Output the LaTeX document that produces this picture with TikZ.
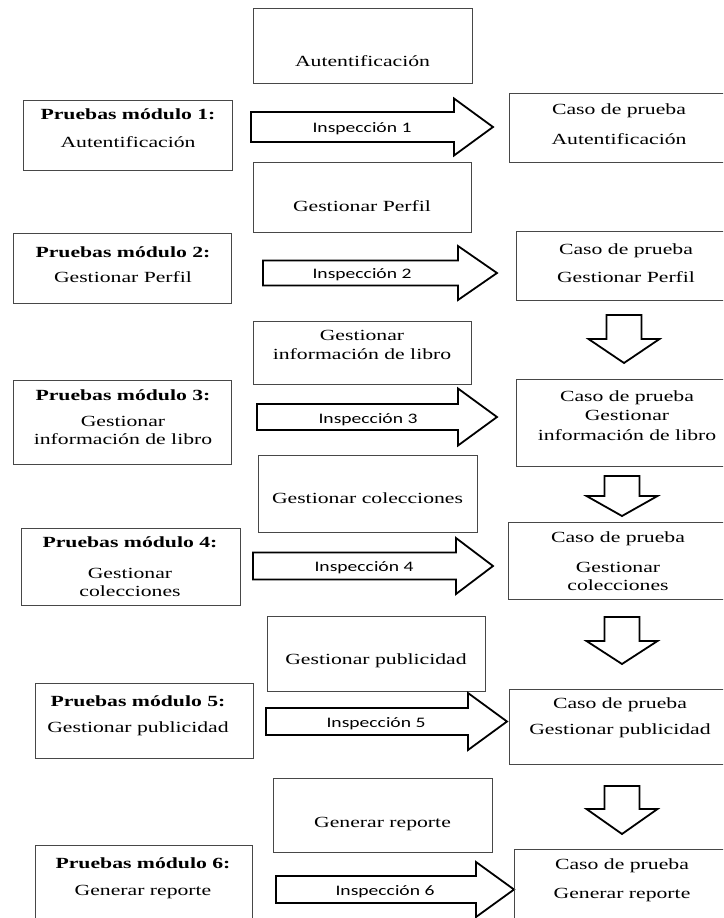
\documentclass[tikz,border=0pt]{standalone}
\usepackage{fontspec}
\setmainfont{Liberation Serif}[FakeStretch=1.4]
\newfontfamily\labelfont{Carlito}[FakeStretch=1.35]

% rectangle node from its two corners: name, x1, y1, x2, y2
\newcommand\mkpanel[5]{%
  \node[panel, minimum width={(#4)-(#2)}, minimum height={(#5)-(#3)}]
    (#1) at ({((#2)+(#4))/2},{((#3)+(#5))/2}) {};}
% right-pointing block arrow: x start, x head base, x tip, y centre, shaft half, head half
\newcommand\rblock[6]{%
  \draw[blockarrow] (#1,{#4-#5}) -- (#2,{#4-#5}) -- (#2,{#4-#6}) -- (#3,#4)
    -- (#2,{#4+#6}) -- (#2,{#4+#5}) -- (#1,{#4+#5}) -- cycle;}
% down-pointing block arrow: x centre, y top, y head base, y tip, shaft half, head half
\newcommand\dblock[6]{%
  \draw[blockarrow] ({#1-#5},#2) -- ({#1+#5},#2) -- ({#1+#5},#3) -- ({#1+#6},#3)
    -- (#1,#4) -- ({#1-#6},#3) -- ({#1-#5},#3) -- cycle;}

\tikzset{
  panel/.style={draw=black!72, line width=0.9pt, inner sep=0pt, outer sep=0pt},
  txt/.style={inner sep=0pt, anchor=base, font=\fontsize{15.5}{18}\selectfont},
  head/.style={txt, font=\fontsize{15.5}{18}\selectfont\bfseries},
  lbl/.style={inner sep=0pt, anchor=base, font=\labelfont\fontsize{14.5}{17}\selectfont},
  blockarrow/.style={draw=black, line width=1.8pt, fill=white, line join=miter},
}

\begin{document}
\begin{tikzpicture}[x=1pt,y=-1pt]
\useasboundingbox (0,0) rectangle (723,918);
\clip (0,0) rectangle (723,918);
\fill[white] (0,0) rectangle (723,918);

% ---- module 1 ----
\mkpanel{m1}{253}{8}{472}{83}
\node[txt] (m1a) at (362.5,66) {Autentificación};
\mkpanel{l1}{23}{100}{232}{170}
\node[head] (l1a) at (128,119) {Pruebas módulo 1:};
\node[txt] (l1b) at (128,147) {Autentificación};
\rblock{251}{454}{493}{127}{15}{28.5}
\node[lbl] (i1) at (362,132.5) {Inspección 1};
\mkpanel{r1}{509}{93}{730}{162}
\node[txt] (r1a) at (619,114) {Caso de prueba};
\node[txt] (r1b) at (619,144) {Autentificación};

% ---- module 2 ----
\mkpanel{m2}{253}{162}{471}{232}
\node[txt] (m2a) at (362,211) {Gestionar Perfil};
\mkpanel{l2}{13}{233}{231}{303}
\node[head] (l2a) at (123,257) {Pruebas módulo 2:};
\node[txt] (l2b) at (123,282) {Gestionar Perfil};
\rblock{263}{458}{497}{273}{12.5}{27}
\node[lbl] (i2) at (362,278) {Inspección 2};
\mkpanel{r2}{516}{231}{730}{300}
\node[txt] (r2a) at (626,254) {Caso de prueba};
\node[txt] (r2b) at (626,282) {Gestionar Perfil};
\dblock{624}{315}{339}{363}{17.5}{35.5}

% ---- module 3 ----
\mkpanel{m3}{253}{321}{471}{384}
\node[txt] (m3a) at (362,340) {Gestionar};
\node[txt] (m3b) at (362,359) {información de libro};
\mkpanel{l3}{13}{380}{231}{464}
\node[head] (l3a) at (123,400) {Pruebas módulo 3:};
\node[txt] (l3b) at (123,426) {Gestionar};
\node[txt] (l3c) at (123,444) {información de libro};
\rblock{257}{458}{497}{417}{13}{28.5}
\node[lbl] (i3) at (368,423.5) {Inspección 3};
\mkpanel{r3}{516}{379}{730}{466}
\node[txt] (r3a) at (627,401) {Caso de prueba};
\node[txt] (r3b) at (627,420) {Gestionar};
\node[txt] (r3c) at (627,440) {información de libro};
\dblock{622}{476}{496}{516}{17.5}{35.5}

% ---- module 4 ----
\mkpanel{m4}{258}{455}{477}{532}
\node[txt] (m4a) at (367.5,503) {Gestionar colecciones};
\mkpanel{l4}{21}{528}{240}{605}
\node[head] (l4a) at (130,547) {Pruebas módulo 4:};
\node[txt] (l4b) at (130,578) {Gestionar};
\node[txt] (l4c) at (130,596) {colecciones};
\rblock{253}{456}{493}{566}{13.5}{28}
\node[lbl] (i4) at (364,571.5) {Inspección 4};
\mkpanel{r4}{508}{522}{730}{599}
\node[txt] (r4a) at (618,542) {Caso de prueba};
\node[txt] (r4b) at (618,572) {Gestionar};
\node[txt] (r4c) at (618,590) {colecciones};
\dblock{622}{617}{641}{664}{17.5}{35.5}

% ---- module 5 ----
\mkpanel{m5}{267}{616}{485}{691}
\node[txt] (m5a) at (376,664) {Gestionar publicidad};
\mkpanel{l5}{35}{683}{253}{758}
\node[head] (l5a) at (138,706) {Pruebas módulo 5:};
\node[txt] (l5b) at (138,732) {Gestionar publicidad};
\rblock{266}{468}{507}{721.5}{13.5}{28.5}
\node[lbl] (i5) at (376,727) {Inspección 5};
\mkpanel{r5}{509}{689}{730}{764}
\node[txt] (r5a) at (620,708) {Caso de prueba};
\node[txt] (r5b) at (620,734) {Gestionar publicidad};
\dblock{622}{786}{809}{834}{17.5}{35.5}

% ---- module 6 ----
\mkpanel{m6}{273}{778}{492}{852}
\node[txt] (m6a) at (382.5,827) {Generar reporte};
\mkpanel{l6}{35}{845}{252}{940}
\node[head] (l6a) at (143,868) {Pruebas módulo 6:};
\node[txt] (l6b) at (143,895) {Generar reporte};
\rblock{276}{476}{514}{889.5}{13.5}{27.5}
\node[lbl] (i6) at (385,895) {Inspección 6};
\mkpanel{r6}{514}{849}{730}{940}
\node[txt] (r6a) at (622,869) {Caso de prueba};
\node[txt] (r6b) at (622,898) {Generar reporte};
\end{tikzpicture}
\end{document}
